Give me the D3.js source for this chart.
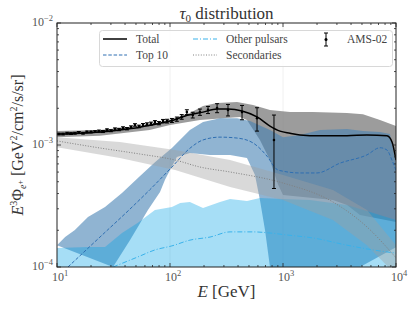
<!DOCTYPE html>
<html>
<head>
<meta charset="utf-8">
<script src="https://cdn.jsdelivr.net/npm/d3@7/dist/d3.min.js"></script>
<style>
  body { margin: 0; background: #fff; }
  svg text { font-family: "Liberation Serif", "DejaVu Serif", serif; }
</style>
</head>
<body>
<div id="chart"></div>
<script>
// ---- data (energy in GeV, flux E^3 Phi in GeV^2/cm^2/s/sr) ----
var totalE = [10, 16, 24, 36, 54, 82, 100, 136, 196, 261, 326, 434, 589, 767, 940, 1153, 1413, 2125, 3683, 5535, 8318, 9220, 10000];
var totalF = [1.23e-3, 1.25e-3, 1.28e-3, 1.33e-3, 1.40e-3, 1.51e-3, 1.57e-3, 1.73e-3, 1.86e-3, 1.97e-3, 1.97e-3, 1.90e-3, 1.70e-3, 1.43e-3, 1.30e-3, 1.25e-3, 1.21e-3, 1.19e-3, 1.19e-3, 1.21e-3, 1.19e-3, 1.06e-3, 7.5e-4];

var totalHiE = [10, 24, 66, 100, 150, 196, 261, 392, 543, 767, 1153, 1841, 3683, 5100, 7215, 10000];
var totalHiF = [1.30e-3, 1.33e-3, 1.46e-3, 1.62e-3, 1.83e-3, 2.09e-3, 2.21e-3, 2.25e-3, 2.13e-3, 1.94e-3, 1.86e-3, 1.86e-3, 1.83e-3, 1.79e-3, 1.60e-3, 1.43e-3];
var totalLoE = [10, 24, 66, 100, 184, 416, 480, 625, 767, 900, 1000, 2767, 3683, 4800, 10000];
var totalLoF = [1.16e-3, 1.19e-3, 1.33e-3, 1.46e-3, 1.60e-3, 1.70e-3, 1.60e-3, 1.10e-3, 7.5e-4, 4.8e-4, 3.9e-4, 3.54e-4, 3.22e-4, 2.67e-4, 2.34e-4];

var top10E = [12.5, 24, 44, 66, 104, 150, 196, 277, 392, 543, 722, 885, 1000, 1413, 2000, 3192, 5535, 7215, 8318, 9220, 10000];
var top10F = [1.0e-4, 1.76e-4, 2.97e-4, 4.28e-4, 6.6e-4, 9.4e-4, 1.10e-3, 1.16e-3, 1.14e-3, 1.04e-3, 8.1e-4, 6.3e-4, 6.1e-4, 5.9e-4, 5.9e-4, 7.1e-4, 8.3e-4, 9.5e-4, 9.1e-4, 7.5e-4, 6.2e-4];
var top10HiE = [10, 11.8, 14.4, 18.8, 26.6, 37.6, 52, 74, 104, 150, 196, 277, 392, 510, 767, 1000, 1413, 2125, 3683, 5100, 7215, 8846, 10000];
var top10HiF = [1.51e-4, 1.76e-4, 2.01e-4, 2.57e-4, 3.10e-4, 4.04e-4, 5.37e-4, 7.26e-4, 9.45e-4, 1.33e-3, 1.54e-3, 1.66e-3, 1.66e-3, 1.57e-3, 1.33e-3, 1.16e-3, 1.21e-3, 1.33e-3, 1.35e-3, 1.30e-3, 1.28e-3, 1.23e-3, 7.0e-4];
var top10LoE = [31.3, 44.2, 63.8, 81.6, 90.3, 115, 150, 226, 340, 480, 565, 625, 693, 767, 800, 4800, 10000];
var top10LoF = [1.0e-4, 1.66e-4, 2.93e-4, 4.12e-4, 5.2e-4, 7.97e-4, 8.6e-4, 8.28e-4, 8.28e-4, 7.82e-4, 5.68e-4, 3.54e-4, 2.01e-4, 1.0e-4, 8.0e-5, 1.0e-4, 1.45e-4];

var otherE = [31.3, 52, 73.6, 104, 150, 226, 340, 543, 767, 1085, 1841, 3683, 6256, 10000];
var otherF = [1.0e-4, 1.21e-4, 1.38e-4, 1.49e-4, 1.66e-4, 1.76e-4, 1.94e-4, 1.94e-4, 1.90e-4, 1.83e-4, 1.73e-4, 1.51e-4, 1.38e-4, 1.30e-4];
var otherHiE = [10, 18.8, 26.6, 37.6, 52, 73.6, 104, 123, 150, 196, 277, 340, 480, 625, 1000, 1733, 3683, 5888, 10000];
var otherHiF = [1.43e-4, 1.46e-4, 1.46e-4, 1.90e-4, 2.30e-4, 2.93e-4, 3.10e-4, 3.35e-4, 3.41e-4, 3.05e-4, 3.41e-4, 3.61e-4, 3.48e-4, 3.68e-4, 3.61e-4, 3.54e-4, 3.22e-4, 2.82e-4, 2.43e-4];
var otherLoE = [10, 10000];
var otherLoF = [5e-5, 5e-5];

var secE = [10, 24, 54, 111, 184, 340, 1000, 2767, 5535, 10000];
var secF = [1.08e-3, 9.45e-4, 8.44e-4, 7.53e-4, 6.60e-4, 6.01e-4, 4.88e-4, 3.41e-4, 2.13e-4, 1.19e-4];
var secHiE = [10, 36, 111, 340, 1000, 2767, 5535, 10000];
var secHiF = [1.16e-3, 1.06e-3, 9.1e-4, 7.53e-4, 5.68e-4, 4.28e-4, 2.93e-4, 1.51e-4];
var secLoE = [10, 36, 111, 340, 1000, 2767, 5535, 10000];
var secLoF = [9.6e-4, 7.82e-4, 6.24e-4, 4.53e-4, 3.54e-4, 2.43e-4, 1.51e-4, 8.6e-5];

var amsE = [10.4, 11.3, 12.3, 13.3, 14.4, 15.6, 17.0, 18.4, 20.0, 21.7, 23.5, 25.5, 27.7, 30.0, 32.6, 35.4, 38.4, 41.6, 45.2, 49.0, 53.2, 57.7, 62.6, 67.9, 73.6, 79.9, 86.7, 94.1, 104, 115, 127, 141, 159, 184, 217, 261, 326, 434, 589, 832];
var amsF = [1.23e-3, 1.23e-3, 1.25e-3, 1.24e-3, 1.25e-3, 1.27e-3, 1.25e-3, 1.28e-3, 1.28e-3, 1.29e-3, 1.30e-3, 1.29e-3, 1.33e-3, 1.31e-3, 1.35e-3, 1.34e-3, 1.38e-3, 1.36e-3, 1.40e-3, 1.46e-3, 1.42e-3, 1.46e-3, 1.48e-3, 1.50e-3, 1.54e-3, 1.51e-3, 1.57e-3, 1.57e-3, 1.59e-3, 1.63e-3, 1.70e-3, 1.86e-3, 1.76e-3, 1.86e-3, 1.94e-3, 2.01e-3, 1.94e-3, 1.86e-3, 1.66e-3, 1.10e-3];
var amsErr = [0.02e-3, 0.02e-3, 0.02e-3, 0.02e-3, 0.02e-3, 0.02e-3, 0.02e-3, 0.02e-3, 0.02e-3, 0.02e-3, 0.025e-3, 0.025e-3, 0.025e-3, 0.025e-3, 0.03e-3, 0.03e-3, 0.03e-3, 0.03e-3, 0.035e-3, 0.035e-3, 0.035e-3, 0.04e-3, 0.04e-3, 0.04e-3, 0.045e-3, 0.045e-3, 0.05e-3, 0.055e-3, 0.06e-3, 0.065e-3, 0.075e-3, 0.085e-3, 0.095e-3, 0.11e-3, 0.13e-3, 0.17e-3, 0.21e-3, 0.25e-3, 0.36e-3, 0.66e-3];

var xTicks = [10, 100, 1000, 10000];
var yTicks = [1e-4, 1e-3, 1e-2];

// ---- layout ----
var W = 413, H = 310;
var margin = {top: 23, right: 17, bottom: 43, left: 57};
var width = W - margin.left - margin.right;
var height = H - margin.top - margin.bottom;

var svg = d3.select("#chart").append("svg")
	.attr("width", W)
	.attr("height", H);

svg.append("defs").append("clipPath").attr("id", "clip")
	.append("rect").attr("width", width).attr("height", height);

var g = svg.append("g")
	.attr("transform", "translate(" + margin.left + "," + margin.top + ")");

var x = d3.scaleLog().domain([10, 1e4]).range([0, width]);
var y = d3.scaleLog().domain([1e-4, 1e-2]).range([height, 0]);

function pts(es, fs) {
	return es.map(function(e, i) { return [e, fs[i]]; });
}
var line = d3.line()
	.x(function(d) { return x(d[0]); })
	.y(function(d) { return y(d[1]); });
var smooth = d3.line()
	.x(function(d) { return x(d[0]); })
	.y(function(d) { return y(d[1]); })
	.curve(d3.curveMonotoneX);

function band(hiE, hiF, loE, loF) {
	var poly = pts(hiE, hiF).concat(pts(loE, loF).reverse());
	return line(poly) + "Z";
}

// faint grid at major ticks
g.selectAll(".gx").data(xTicks.slice(1, -1)).enter().append("line")
	.attr("x1", x).attr("x2", x).attr("y1", 0).attr("y2", height)
	.attr("stroke", "#ececec").attr("stroke-width", 0.8);

var plot = g.append("g").attr("clip-path", "url(#clip)");

// bands: total first, then top 10, other pulsars, secondaries
plot.append("path").attr("d", band(totalHiE, totalHiF, totalLoE, totalLoF))
	.attr("fill", "#808080").attr("fill-opacity", 0.78);
plot.append("path").attr("d", band(top10HiE, top10HiF, top10LoE, top10LoF))
	.attr("fill", "#4682b4").attr("fill-opacity", 0.6);
plot.append("path").attr("d", band(otherHiE, otherHiF, otherLoE, otherLoF))
	.attr("fill", "#00a0e6").attr("fill-opacity", 0.35);
plot.append("path").attr("d", band(secHiE, secHiF, secLoE, secLoF))
	.attr("fill", "#a0a0a0").attr("fill-opacity", 0.4);

// lines
plot.append("path").attr("d", smooth(pts(secE, secF)))
	.attr("fill", "none").attr("stroke", "#808080").attr("stroke-width", 1)
	.attr("stroke-dasharray", "1,1.6");
plot.append("path").attr("d", smooth(pts(otherE, otherF)))
	.attr("fill", "none").attr("stroke", "#3ab2ea").attr("stroke-width", 1)
	.attr("stroke-dasharray", "5,2,1,2");
plot.append("path").attr("d", smooth(pts(top10E, top10F)))
	.attr("fill", "none").attr("stroke", "#2f6fb2").attr("stroke-width", 1)
	.attr("stroke-dasharray", "3.5,1.8");
plot.append("path").attr("d", smooth(pts(totalE, totalF)))
	.attr("fill", "none").attr("stroke", "#000").attr("stroke-width", 1.5);

// AMS-02 data
var ams = amsE.map(function(e, i) { return {e: e, f: amsF[i], err: amsErr[i]}; });
var pt = plot.selectAll(".ams").data(ams).enter().append("g").attr("class", "ams");
pt.append("line")
	.attr("x1", function(d) { return x(d.e); }).attr("x2", function(d) { return x(d.e); })
	.attr("y1", function(d) { return y(d.f + d.err); }).attr("y2", function(d) { return y(d.f - d.err); })
	.attr("stroke", "#000").attr("stroke-width", 1);
pt.selectAll(".cap").data(function(d) { return [d.f + d.err, d.f - d.err].map(function(v) { return {e: d.e, v: v}; }); })
	.enter().append("line")
	.attr("x1", function(d) { return x(d.e) - 2; }).attr("x2", function(d) { return x(d.e) + 2; })
	.attr("y1", function(d) { return y(d.v); }).attr("y2", function(d) { return y(d.v); })
	.attr("stroke", "#000").attr("stroke-width", 1);
pt.append("circle")
	.attr("cx", function(d) { return x(d.e); }).attr("cy", function(d) { return y(d.f); })
	.attr("r", 1.3).attr("fill", "#000");

// ticks (inward, all sides)
var minorX = [], minorY = [];
[10, 100, 1000].forEach(function(b) { for (var k = 2; k < 10; k++) minorX.push(b * k); });
[1e-4, 1e-3].forEach(function(b) { for (var k = 2; k < 10; k++) minorY.push(b * k); });
var tk = g.append("g").attr("stroke", "#222").attr("stroke-width", 0.8);
xTicks.concat(minorX).forEach(function(v) {
	var len = xTicks.indexOf(v) >= 0 ? 4 : 2;
	tk.append("line").attr("x1", x(v)).attr("x2", x(v)).attr("y1", height).attr("y2", height - len);
	tk.append("line").attr("x1", x(v)).attr("x2", x(v)).attr("y1", 0).attr("y2", len);
});
yTicks.concat(minorY).forEach(function(v) {
	var len = yTicks.indexOf(v) >= 0 ? 4 : 2;
	tk.append("line").attr("y1", y(v)).attr("y2", y(v)).attr("x1", 0).attr("x2", len);
	tk.append("line").attr("y1", y(v)).attr("y2", y(v)).attr("x1", width).attr("x2", width - len);
});

g.append("rect").attr("width", width).attr("height", height)
	.attr("fill", "none").attr("stroke", "#222").attr("stroke-width", 1);

// tick labels
function pow10(sel, exp) {
	sel.append("tspan").text("10");
	sel.append("tspan").attr("dy", -5).attr("font-size", 8.5).text(exp);
}
xTicks.forEach(function(v) {
	var t = g.append("text").attr("x", x(v) + 3).attr("y", height + 14)
		.attr("text-anchor", "middle").attr("font-size", 12).attr("fill", "#555");
	pow10(t, String(Math.round(Math.log10(v))));
});
yTicks.forEach(function(v) {
	var t = g.append("text").attr("x", -4).attr("y", y(v) + 3)
		.attr("text-anchor", "end").attr("font-size", 12).attr("fill", "#555");
	pow10(t, "\u2212" + String(-Math.round(Math.log10(v))));
});

// title and axis labels
var title = svg.append("text").attr("x", margin.left + width / 2).attr("y", 19)
	.attr("text-anchor", "middle").attr("font-size", 17).attr("fill", "#333");
title.append("tspan").attr("font-style", "italic").text("\u03c4");
title.append("tspan").attr("font-size", 11).attr("dy", 3).text("0");
title.append("tspan").attr("dy", -3).text(" distribution");

var xl = svg.append("text").attr("x", margin.left + width / 2).attr("y", 297)
	.attr("text-anchor", "middle").attr("font-size", 17).attr("fill", "#333");
xl.append("tspan").attr("font-style", "italic").text("E");
xl.append("tspan").text(" [GeV]");

var yl = svg.append("text")
	.attr("transform", "translate(23," + (margin.top + height / 2) + ") rotate(-90)")
	.attr("text-anchor", "middle").attr("font-size", 16).attr("fill", "#333");
yl.append("tspan").attr("font-style", "italic").text("E");
yl.append("tspan").attr("font-size", 10).attr("dy", -6).text("3");
yl.append("tspan").attr("dy", 6).text("\u03a6");
yl.append("tspan").attr("font-size", 10).attr("dy", 3).attr("font-style", "italic").text("e");
yl.append("tspan").attr("font-size", 8).attr("dy", -3).text("+");
yl.append("tspan").attr("dy", 0).text(" [GeV");
yl.append("tspan").attr("font-size", 10).attr("dy", -6).text("2");
yl.append("tspan").attr("dy", 6).text("/cm");
yl.append("tspan").attr("font-size", 10).attr("dy", -6).text("2");
yl.append("tspan").attr("dy", 6).text("/s/sr]");

// legend
var lg = svg.append("g");
lg.append("rect").attr("x", 99.5).attr("y", 30.5).attr("width", 293).attr("height", 36).attr("rx", 3)
	.attr("fill", "#fff").attr("fill-opacity", 0.8).attr("stroke", "#d8d8d8").attr("stroke-width", 1);
var items = [
	{label: "Total", col: 0, row: 0, stroke: "#000", dash: null, w: 1.5},
	{label: "Top 10", col: 0, row: 1, stroke: "#2f6fb2", dash: "3.5,1.8", w: 1},
	{label: "Other pulsars", col: 1, row: 0, stroke: "#3ab2ea", dash: "5,2,1,2", w: 1},
	{label: "Secondaries", col: 1, row: 1, stroke: "#808080", dash: "1,1.6", w: 1}
];
var colX = [103, 193];
items.forEach(function(it) {
	var ly = 39 + it.row * 16;
	lg.append("line").attr("x1", colX[it.col]).attr("x2", colX[it.col] + 24)
		.attr("y1", ly).attr("y2", ly)
		.attr("stroke", it.stroke).attr("stroke-width", it.w)
		.attr("stroke-dasharray", it.dash);
	lg.append("text").attr("x", colX[it.col] + 33).attr("y", ly + 4)
		.attr("font-size", 11.5).attr("fill", "#444").text(it.label);
});
lg.append("line").attr("x1", 326).attr("x2", 326).attr("y1", 33).attr("y2", 46).attr("stroke", "#000");
lg.append("line").attr("x1", 324).attr("x2", 328).attr("y1", 33).attr("y2", 33).attr("stroke", "#000");
lg.append("line").attr("x1", 324).attr("x2", 328).attr("y1", 46).attr("y2", 46).attr("stroke", "#000");
lg.append("circle").attr("cx", 326).attr("cy", 39.5).attr("r", 1.5).attr("fill", "#000");
lg.append("text").attr("x", 347).attr("y", 43).attr("font-size", 11.5).attr("fill", "#444").text("AMS-02");
</script>
</body>
</html>
